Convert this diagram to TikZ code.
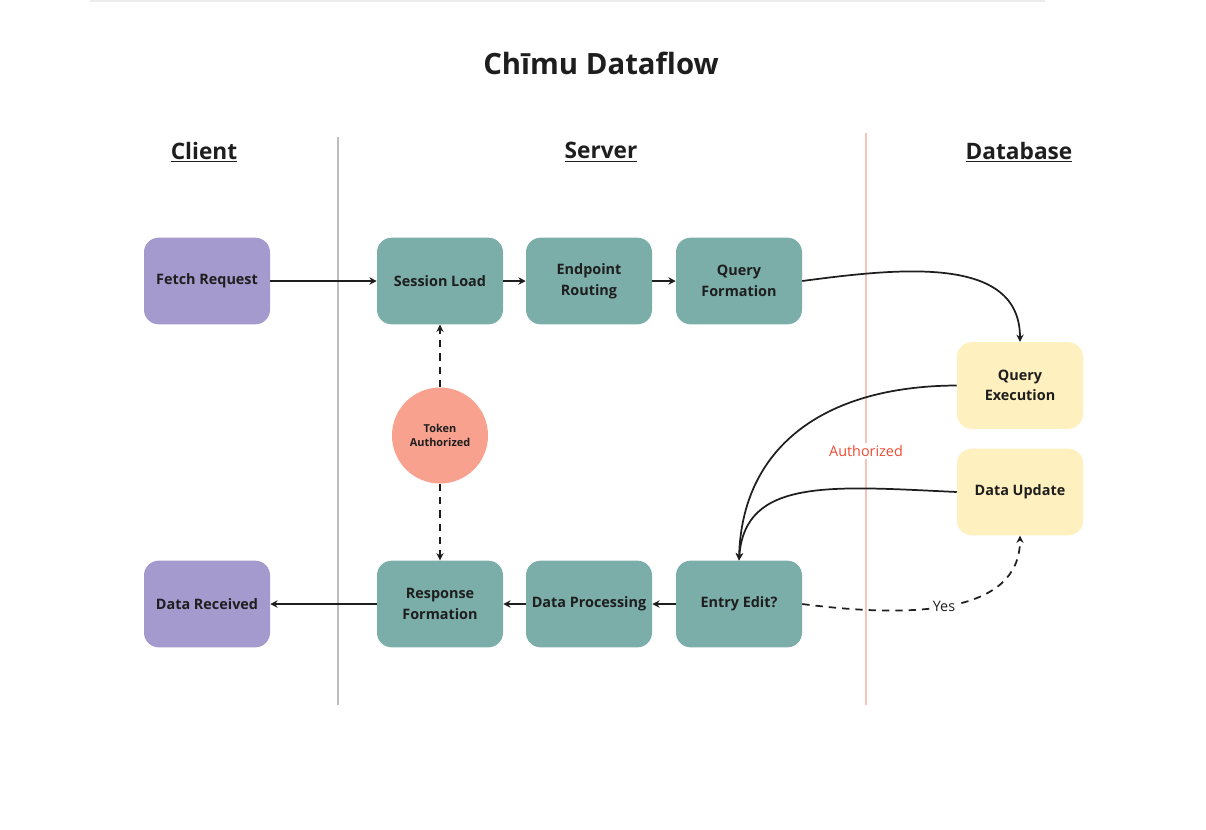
\documentclass[tikz,border=0pt]{standalone}
\usepackage{fontspec}
\setmainfont{Open Sans}
\usetikzlibrary{arrows.meta}
\definecolor{txt}{HTML}{1E1E1E}
\definecolor{purp}{HTML}{A59ACD}
\definecolor{teal}{HTML}{7BADA9}
\definecolor{yell}{HTML}{FFF0BF}
\definecolor{salm}{HTML}{F7A18E}
\definecolor{pinkline}{HTML}{F8C3B8}
\definecolor{grayline}{HTML}{BEBEBE}
\definecolor{authred}{HTML}{EE4B32}
\begin{document}
\begin{tikzpicture}[x=0.75pt,y=-0.75pt,
  box/.style={rounded corners=11pt, minimum width=94.5pt, minimum height=65pt, align=center,
    font=\bfseries\fontsize{10.8}{15.5}\selectfont, text=txt, inner sep=2pt},
  client/.style={box, fill=purp},
  server/.style={box, fill=teal},
  db/.style={box, fill=yell},
  hdr/.style={font=\bfseries\fontsize{17}{20}\selectfont, text=txt},
  conn/.style={draw=txt, line width=1.3pt, -{Stealth[length=5.5pt,width=5.5pt]}},
  dconn/.style={conn, dash pattern=on 5.5pt off 4.5pt}]
\useasboundingbox (0,0) rectangle (1206,829);
\draw[gray!15, line width=1.5pt] (90,0.5) -- (1045,0.5);

\node[font=\bfseries\fontsize{22}{26}\selectfont, text=txt] (title) at (601,63) {Chīmu Dataflow};

\node[hdr] (hclient) at (204,152) {\underline{Client}};
\node[hdr] (hserver) at (601,152) {\underline{Server}};
\node[hdr] (hdb) at (1019,152) {\underline{Database}};

\draw[grayline, line width=1.5pt] (338,137) -- (338,705);
\draw[pinkline, line width=1.8pt] (866,133) -- (866,705);

\node[client] (fetch) at (207,281) {Fetch Request};
\node[client] (recv) at (207,604) {Data Received};
\node[server] (sess) at (440,281) {Session Load};
\node[server] (endp) at (589,281) {Endpoint\\Routing};
\node[server] (qform) at (739,281) {Query\\Formation};
\node[server] (resp) at (440,604) {Response\\Formation};
\node[server] (proc) at (589,604) {Data Processing};
\node[server] (entry) at (739,604) {Entry Edit?};
\node[db] (qexec) at (1020,385.5) {Query\\Execution};
\node[db] (dupd) at (1020,492) {Data Update};
\node[circle, fill=salm, minimum size=72pt, inner sep=0pt, align=center,
  font=\bfseries\fontsize{8.2}{11}\selectfont, text=txt] (token) at (440,435.5) {Token\\Authorized};

\node[fill=white, text=authred, font=\fontsize{10.8}{13}\selectfont, inner sep=1.5pt] (auth) at (866,451) {Authorized};

\draw[conn] (fetch) -- (sess);
\draw[conn] (sess) -- (endp);
\draw[conn] (endp) -- (qform);
\draw[conn] (qform.east) .. controls (900,268) and (1020,255) .. (qexec.north);
\draw[conn] (qexec.west) .. controls (820,386) and (742,450) .. (entry.north);
\draw[conn] (dupd.west) .. controls (830,486) and (745,478) .. (entry.north);
\draw[conn] (entry) -- (proc);
\draw[conn] (proc) -- (resp);
\draw[conn] (resp) -- (recv);
\draw[dconn] (token) -- (sess);
\draw[dconn] (token) -- (resp);
\draw[dconn] (entry.east) .. controls (910,618) and (1020,615) .. node[pos=0.47, fill=white, inner sep=1.5pt, text=txt, font=\fontsize{10.8}{13}\selectfont] (yes) {Yes} (dupd.south);
\end{tikzpicture}
\end{document}
